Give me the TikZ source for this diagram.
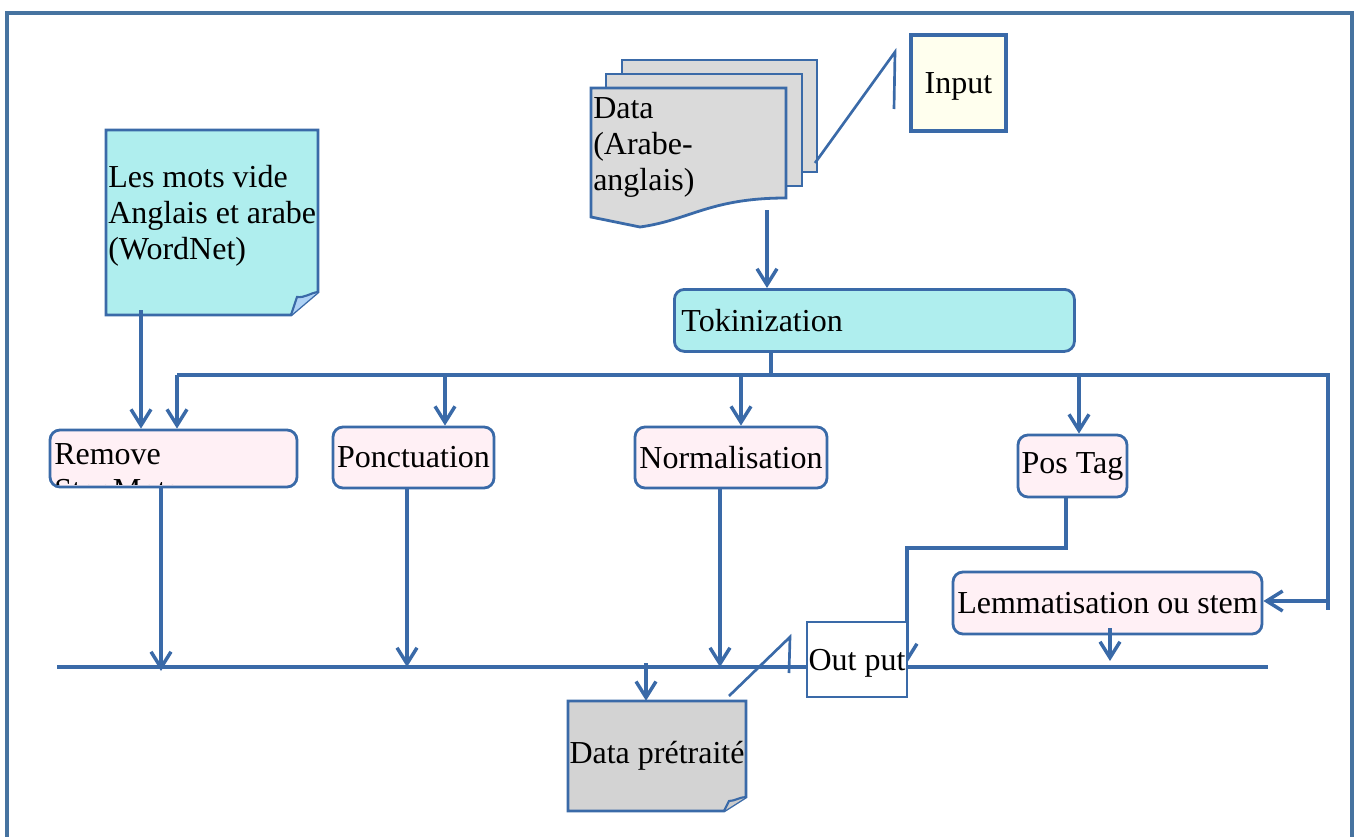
\documentclass[tikz,border=0pt]{standalone}
\usepackage{fontspec}
\setmainfont{Liberation Serif}
\usetikzlibrary{arrows.meta,calc}
\definecolor{lineblue}{RGB}{58,106,168}
\definecolor{framecol}{RGB}{70,115,160}
\definecolor{cyanfill}{RGB}{175,238,238}
\definecolor{pinkfill}{RGB}{255,240,245}
\definecolor{pagegray}{RGB}{218,218,218}
\definecolor{docgray}{RGB}{211,211,211}
\definecolor{ivoryfill}{RGB}{255,255,238}

\begin{document}
\begin{tikzpicture}[x=0.75pt,y=-0.75pt,
  font=\fontsize{24}{27}\selectfont,
  conn/.style={draw=lineblue, line width=2.6pt},
  arr/.style={conn, -{Straight Barb[length=12pt,width=15pt]}},
  callout/.style={draw=lineblue, line width=2pt},
  outline/.style={draw=lineblue, line width=2.1pt},
  stepbox/.style={outline, fill=pinkfill, rounded corners=7.5pt, inner sep=0pt},
  plainbox/.style={outline, inner sep=0pt},
  txt/.style={inner sep=0pt, align=left}
]
\useasboundingbox (0,0) rectangle (1360,836);

% page frame
\begin{scope}
  \clip (0,0) rectangle (1360,836);
  \draw[framecol, line width=2.6pt] (7,13) rectangle (1352,870);
\end{scope}

% ---------- input documents ----------
\node[plainbox, fill=pagegray, minimum width=146.25pt, minimum height=84pt] (page3) at (719.5,116) {};
\node[plainbox, fill=pagegray, minimum width=147pt, minimum height=84pt] (page2) at (704,130) {};
\path[outline, fill=pagegray] (591,88) -- (786,88) -- (786,198)
  .. controls (710,198) and (690,220) .. (640,227) -- (591,217) -- cycle;
% multi-line labels are placed by the baseline of their last line
\node[txt, anchor=base west] (datatxt) at (593,190) {Data\\(Arabe-\\anglais)};

\node[plainbox, line width=2.8pt, fill=ivoryfill, minimum width=71.25pt, minimum height=72pt, text depth=0pt] (input) at (958.5,83) {Input};
\coordinate (calA) at (894,109);
\coordinate (calB) at (895,52);
\coordinate (calC) at (815,163);
\draw[callout] (calA) -- (calB) -- (calC);

% ---------- stop word list ----------
\path[outline, fill=cyanfill] (106,130) -- (318,130) -- (318,292) -- (291,315) -- (106,315) -- cycle;
\path[draw=lineblue, line width=1.6pt, fill=cyanfill!80!blue!70!white] (291,315) -- (297,297) .. controls (305,298) and (310,293) .. (318,292);
\node[txt, anchor=base west] (stoptxt) at (108,259) {Les mots vide\\Anglais et arabe\\(WordNet)};

% ---------- tokenization and bus ----------
\node[outline, fill=cyanfill, rounded corners=7.5pt, anchor=north west, text width=289.5pt,
      align=left, minimum height=46.5pt, inner xsep=5.25pt, inner ysep=0pt] (tok) at (673,288) {Tokinization};

\coordinate (dataout) at (767,210);
\draw[arr] (dataout) -- (dataout |- tok.north);

\coordinate (busT) at (771,375);
\coordinate (busL) at (177,375);
\coordinate (busR) at (1328,375);
\coordinate (busRB) at (1328,610);
\draw[conn] (tok.south -| busT) -- (busT);
\draw[conn] (busL) -- (busR) -- (busRB);

% ---------- processing steps ----------
\node[stepbox, minimum width=185.25pt, minimum height=42.75pt] (remove) at (173.5,458.5) {};
\begin{scope}
  \clip (51,432) rectangle (296,484);
  \node[txt, anchor=base west] (removetxt) at (54,500) {Remove\\StopMots};
\end{scope}
\node[stepbox, minimum width=120.75pt, minimum height=45.75pt] (ponct) at (413.5,457.5) {Ponctuation};
\node[stepbox, minimum width=144pt, minimum height=45.75pt] (norm) at (731,457.5) {Normalisation};
\node[stepbox, minimum width=81.75pt, minimum height=46.5pt] (pos) at (1072.5,466) {Pos Tag};
\node[stepbox, minimum width=231.75pt, minimum height=46.5pt] (lem) at (1107.5,603) {Lemmatisation ou stem};

\coordinate (stopout) at (141,310);
\coordinate (bp) at (445,375);
\coordinate (bn) at (741,375);
\coordinate (bt) at (1079,375);
\coordinate (lemin) at (1328,601);
\draw[arr] (stopout) -- (stopout |- remove.north);
\draw[arr] (busL) -- (busL |- remove.north);
\draw[arr] (bp) -- (bp |- ponct.north);
\draw[arr] (bn) -- (bn |- norm.north);
\draw[arr] (bt) -- (bt |- pos.north);
\draw[arr] (lemin) -- (lemin -| lem.east);

% ---------- output bus ----------
\coordinate (bbL) at (57,667);
\coordinate (bbR) at (1268,667);
\draw[conn] (bbL) -- (bbR);

\coordinate (rmout) at (161,487);
\coordinate (pcout) at (407,488);
\coordinate (nmout) at (720,488);
\coordinate (lmout) at (1110,628);
\coordinate (lmend) at (1110,661);
\draw[arr] (rmout) -- ($(rmout |- bbL)+(0,4)$);
\draw[arr] (pcout) -- (pcout |- bbL);
\draw[arr] (nmout) -- (nmout |- bbL);
\draw[arr] (lmout) -- (lmend);

\coordinate (posout) at (1066,497);
\coordinate (posbend) at (907,548);
\draw[arr] (posout) |- (posbend) -- (posbend |- 0,663);

\node[plainbox, fill=white, minimum width=75pt, minimum height=56.25pt, text depth=0pt] (out) at (857,659.5) {Out put};

% ---------- pre-processed data ----------
\path[outline, fill=docgray] (568,701) -- (746,701) -- (746,797) -- (724,811) -- (568,811) -- cycle;
\path[draw=lineblue, line width=1.6pt, fill=docgray!80!black!60!white] (724,811) -- (729,801) .. controls (735,801) and (740,797) .. (746,797);
\node[inner sep=0pt, minimum width=133.5pt, minimum height=82.5pt] (dp) at (657,756) {Data prétraité};

\coordinate (dpin) at (646,663);
\draw[arr] (dpin) -- (dpin |- dp.north);

\coordinate (calD) at (789,673);
\coordinate (calE) at (790,637);
\coordinate (calF) at (729,696);
\draw[callout] (calD) -- (calE) -- (calF);
\end{tikzpicture}
\end{document}
